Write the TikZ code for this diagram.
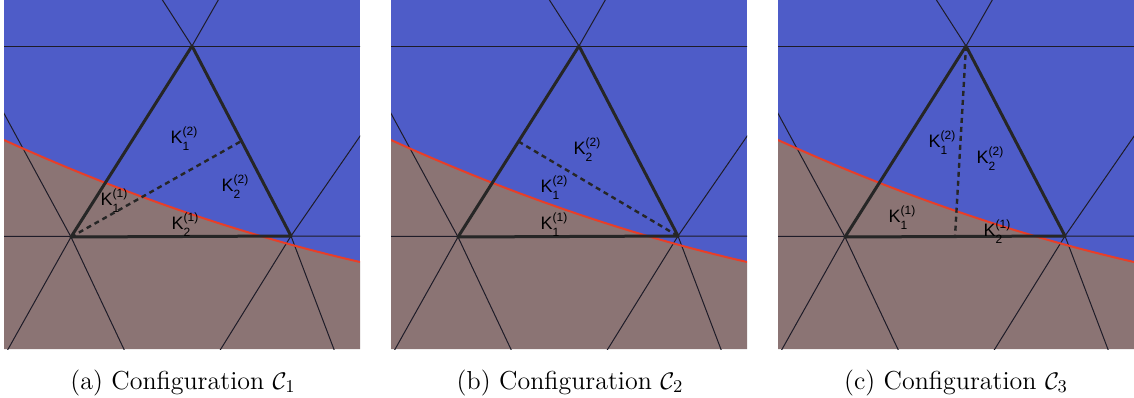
\documentclass[tikz,border=0pt]{standalone}
\usepackage{fontspec}
\usepackage{amsmath,amssymb}
\usepackage{tikz}
\usetikzlibrary{calc}
\newfontfamily\lblfont{Liberation Sans}
\definecolor{upblue}{RGB}{78,92,200}
\definecolor{lowbrown}{RGB}{139,116,116}
\definecolor{ifred}{RGB}{232,62,40}
\definecolor{meshgray}{RGB}{30,28,40}
\newcommand{\scr}{\fontsize{6}{6}\selectfont}
\newcommand{\Klab}[2]{{\lblfont\fontsize{9}{9}\selectfont K\rlap{\raisebox{-3.5pt}{\scr #1}}\raisebox{4pt}{\scr(#2)}}}
\newcommand{\meshpanel}[2]{%
\begin{scope}[shift={(#2,0)}]
\begin{scope}
\clip (0,0) rectangle (356,349);
\fill[upblue] (0,0) rectangle (356,349);
\fill[lowbrown] (0,140) .. controls (119,194) and (238,235) .. (356,262) -- (356,349) -- (0,349) -- cycle;
\coordinate (#1A) at (67,237); \coordinate (#1B) at (287,236); \coordinate (#1C) at (188,46);
\coordinate (#1hl) at (-10,46); \coordinate (#1hr) at (366,46);
\coordinate (#1bl) at (-10,236.5); \coordinate (#1br) at (366,236);
\coordinate (#1al) at (-10,95); \coordinate (#1ad) at (-2,360); \coordinate (#1ae) at (125,360);
\coordinate (#1bd) at (210,360); \coordinate (#1be) at (334,360); \coordinate (#1bu) at (370,116);
\coordinate (#1cl) at (152,-10); \coordinate (#1cr) at (220,-10);
\draw[mesh] (#1hl) -- (#1hr); \draw[mesh] (#1bl) -- (#1br);
\draw[mesh] (#1A) -- (#1al); \draw[mesh] (#1A) -- (#1ad); \draw[mesh] (#1A) -- (#1ae);
\draw[mesh] (#1B) -- (#1bd); \draw[mesh] (#1B) -- (#1be); \draw[mesh] (#1B) -- (#1bu);
\draw[mesh] (#1C) -- (#1cl); \draw[mesh] (#1C) -- (#1cr);
\draw[iface] (0,140) .. controls (119,194) and (238,235) .. (356,262);
\end{scope}
\draw[tri] (#1A) -- (#1B) -- (#1C) -- cycle;
\end{scope}}

\begin{document}
\begin{tikzpicture}[x=0.5pt, y=-0.5pt, mesh/.style={draw=meshgray, line width=0.5pt}, iface/.style={draw=ifred, line width=1pt}, tri/.style={draw=black!85, line width=1.5pt, line join=round}, cutline/.style={draw=black!85, line width=1.2pt, dash pattern=on 2.5pt off 2pt}, subcap/.style={anchor=base, font=\fontsize{13}{15}\selectfont}]
\useasboundingbox (0,0) rectangle (1134,397);
% panel (a)
\meshpanel{a}{4}
\coordinate (aM) at ($(aB)!0.5!(aC)$);
\draw[cutline] (aA) -- (aM);
\node (a12) at (184,139) {\Klab{1}{2}};
\node (a22) at (235,187) {\Klab{2}{2}};
\node (a11) at (114,201) {\Klab{1}{1}};
\node (a21) at (185,225) {\Klab{2}{1}};
\node[subcap] (capa) at (183,389) {(a) Configuration $\mathcal{C}_1$};
% panel (b)
\meshpanel{b}{391}
\coordinate (bM) at ($(bA)!0.5!(bC)$);
\draw[cutline] (bM) -- (bB);
\node (b22) at (587,150) {\Klab{2}{2}};
\node (b12) at (554,188) {\Klab{1}{2}};
\node (b11) at (554,225) {\Klab{1}{1}};
\node[subcap] (capb) at (570,389) {(b) Configuration $\mathcal{C}_2$};
% panel (c)
\meshpanel{c}{778}
\coordinate (cM) at ($(cA)!0.5!(cB)$);
\draw[cutline] (cC) -- (cM);
\node (c12) at (942,143) {\Klab{1}{2}};
\node (c22) at (990,159) {\Klab{2}{2}};
\node (c11) at (902,218) {\Klab{1}{1}};
\node (c21) at (997,232) {\Klab{2}{1}};
\node[subcap] (capc) at (956,389) {(c) Configuration $\mathcal{C}_3$};
\end{tikzpicture}
\end{document}
